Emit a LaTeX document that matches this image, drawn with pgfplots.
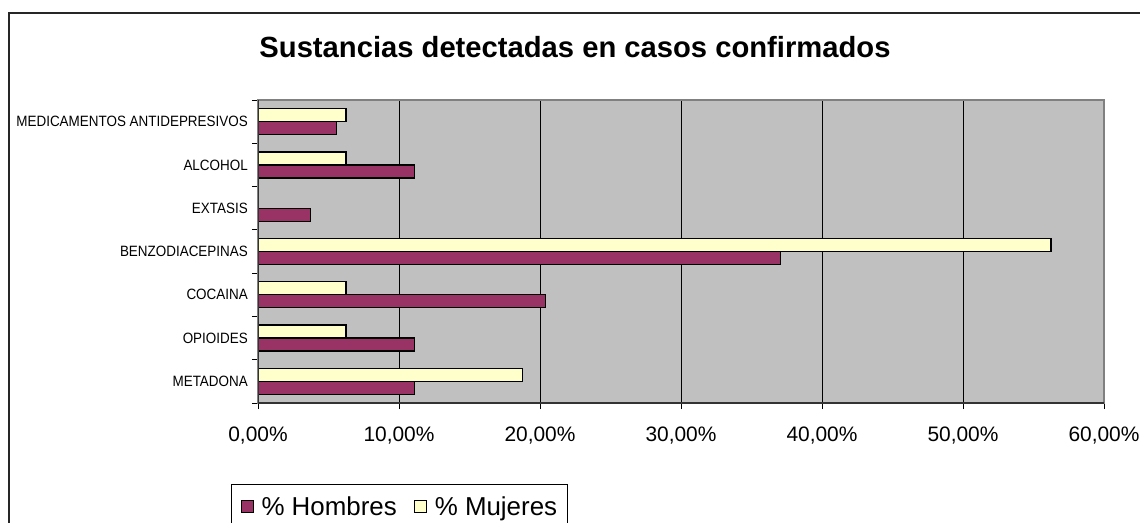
\documentclass[border=0pt]{standalone}
\usepackage{pgfplots}
\pgfplotsset{compat=1.18}
\usepackage{fontspec}
\setmainfont{Liberation Sans}
\definecolor{hombres}{HTML}{993366}
\definecolor{mujeres}{HTML}{FFFFCC}
\definecolor{bgGray}{HTML}{C0C0C0}
\newcommand{\cl}[1]{\scalebox{0.9}[1]{#1}}
\begin{document}
\begin{tikzpicture}
\path[use as bounding box] (0bp,0bp) rectangle (1140bp,-523bp);
\draw[line width=1.3bp, black!85] (9bp,-540bp) -- (9bp,-13bp) -- (1160bp,-13bp);
\node[font=\bfseries\fontsize{29.3}{32}\selectfont, anchor=base] at (575bp,-57bp) {Sustancias detectadas en casos confirmados};
\begin{axis}[
  at={(258bp,-403bp)}, anchor=south west,
  scale only axis, width=846bp, height=303bp,
  xbar, bar width=13bp,
  xmin=0, xmax=60, ymin=-0.5, ymax=6.5,
  axis background/.style={fill=bgGray},
  axis line style={draw=black!50, line width=1.3bp},
  xtick={0,10,20,30,40,50,60},
  xticklabels={{0,00\%},{10,00\%},{20,00\%},{30,00\%},{40,00\%},{50,00\%},{60,00\%}},
  xticklabel style={font=\fontsize{21}{24}\selectfont, inner sep=0pt, yshift=-18bp},
  ytick={-0.5,0.5,...,6.5}, yticklabels={},
  extra y ticks={0,1,2,3,4,5,6},
  extra y tick labels={\cl{METADONA},\cl{OPIOIDES},\cl{COCAINA},\cl{BENZODIACEPINAS},\cl{EXTASIS},\cl{ALCOHOL},\cl{MEDICAMENTOS ANTIDEPRESIVOS}},
  extra y tick style={major tick length=0pt, yticklabel style={font=\fontsize{15}{17}\selectfont, inner sep=0pt, xshift=-10bp}},
  tick align=outside, tick pos=left, major tick length=6bp,
  tick style={black, line width=0.8bp},
  xmajorgrids, grid style={black, line width=0.9bp},
  legend style={at={(-0.0319,-0.2673)}, anchor=north west, draw=black, line width=1bp,
    font=\fontsize{26}{29}\selectfont, inner xsep=8bp, inner ysep=10bp, column sep=0bp,
    nodes={inner xsep=2bp},
    /tikz/every even column/.append style={column sep=14bp}},
  legend columns=2,
  legend image code/.code={\draw[#1, line width=1.2bp] (0bp,-6bp) rectangle (12bp,6bp); \path[draw=none, fill=none] (-2bp,0bp) (18bp,0bp);},
]
\addplot[fill=hombres, draw=black, line width=1.3bp, bar shift=-6.5bp] coordinates {
 (11.11,0) (11.11,1) (20.37,2) (37.04,3) (3.70,4) (11.11,5) (5.56,6)};
\addlegendentry{\% Hombres}
\addplot[fill=mujeres, draw=black, line width=1.3bp, bar shift=6.5bp] coordinates {
 (18.75,0) (6.25,1) (6.25,2) (56.25,3) (6.25,5) (6.25,6)};
\addlegendentry{\% Mujeres}
\draw[black!80, line width=1.3bp] (rel axis cs:0,1) -- (rel axis cs:0,0) -- (rel axis cs:1,0);
\end{axis}
\end{tikzpicture}
\end{document}
